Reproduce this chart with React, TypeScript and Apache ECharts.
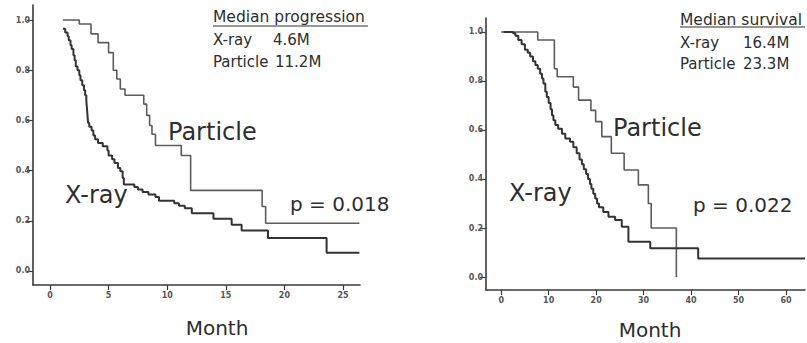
import { useEffect, useRef } from "react";
import * as echarts from "echarts";

// Panel A: progression
const progXrayMonths = [1.1, 1.3, 1.5, 1.6, 1.75, 1.85, 2.0, 2.1, 2.2, 2.35, 2.5, 2.6, 2.75, 2.9, 3.0, 3.1, 3.15, 3.2, 3.25, 3.35, 3.55, 3.7, 3.85, 4.1, 4.5, 4.9, 5.0, 5.3, 5.5, 5.8, 6.0, 6.2, 6.3, 7.2, 7.5, 7.9, 8.4, 9.0, 9.3, 10.6, 11.0, 11.5, 12.1, 13.95, 15.5, 16.35, 18.6, 23.6, 26.4];
const progXraySurv = [0.965, 0.95, 0.935, 0.92, 0.9, 0.885, 0.86, 0.84, 0.815, 0.8, 0.78, 0.76, 0.74, 0.72, 0.7, 0.68, 0.65, 0.62, 0.59, 0.575, 0.56, 0.54, 0.525, 0.51, 0.497, 0.48, 0.46, 0.445, 0.43, 0.41, 0.397, 0.37, 0.345, 0.335, 0.325, 0.315, 0.305, 0.295, 0.28, 0.27, 0.26, 0.25, 0.23, 0.208, 0.184, 0.161, 0.131, 0.073, 0.073];
const progParticleMonths = [1.1, 2.5, 3.5, 4.1, 5.0, 5.4, 5.7, 6.0, 6.4, 8.0, 8.25, 8.5, 8.7, 9.0, 11.2, 12.0, 18.1, 18.4, 26.4];
const progParticleSurv = [1.0, 0.984, 0.945, 0.91, 0.87, 0.8, 0.765, 0.725, 0.7, 0.665, 0.62, 0.58, 0.545, 0.5, 0.46, 0.321, 0.257, 0.19, 0.19];

// Panel B: survival
const survXrayMonths = [0.5, 2.5, 3.0, 3.6, 4.3, 5.0, 5.6, 6.1, 6.7, 7.2, 7.7, 8.2, 8.6, 8.9, 9.3, 9.6, 10.0, 10.4, 10.7, 11.0, 11.4, 12.0, 12.8, 13.5, 14.5, 15.2, 15.9, 16.5, 17.0, 17.4, 17.9, 18.3, 18.7, 19.0, 19.4, 19.8, 20.2, 20.6, 21.5, 22.6, 24.0, 25.4, 26.8, 31.4, 41.5, 64.0];
const survXraySurv = [1.0, 0.995, 0.985, 0.967, 0.95, 0.927, 0.915, 0.9, 0.88, 0.865, 0.85, 0.83, 0.81, 0.79, 0.756, 0.735, 0.71, 0.685, 0.66, 0.64, 0.62, 0.605, 0.585, 0.565, 0.552, 0.53, 0.505, 0.48, 0.46, 0.44, 0.42, 0.4, 0.38, 0.36, 0.34, 0.32, 0.3, 0.285, 0.265, 0.246, 0.233, 0.205, 0.144, 0.117, 0.076, 0.076];
const survParticleMonths = [0.0, 7.7, 11.2, 11.8, 15.2, 16.3, 18.9, 19.9, 21.2, 23.2, 25.9, 28.9, 31.0, 31.6, 36.9];
const survParticleSurv = [1.0, 0.967, 0.85, 0.817, 0.775, 0.722, 0.68, 0.634, 0.573, 0.505, 0.437, 0.376, 0.3, 0.2, 0.0];

const progMonthTicks = [0, 5, 10, 15, 20, 25];
const survMonthTicks = [0, 10, 20, 30, 40, 50, 60];
const probTicks = [0, 0.2, 0.4, 0.6, 0.8, 1.0];

const zip = (xs: number[], ys: number[]) => xs.map((x, i) => [x, ys[i]]);

const FONT = "DejaVu Sans";
const AXIS = "#3a3a3a";
const INK = "#2e2e2e";

function xAxisCfg(gridIndex: number, min: number, max: number, ticks: number[]) {
  return {
    type: "value",
    gridIndex,
    min,
    max,
    axisLine: { show: true, onZero: false, lineStyle: { color: AXIS, width: 1.6 } },
    axisTick: { show: true, customValues: ticks, length: 5, lineStyle: { color: AXIS, width: 1.2 } },
    axisLabel: { customValues: ticks, fontSize: 8, fontWeight: "bold", color: "#555", margin: 6, fontFamily: FONT },
    splitLine: { show: false },
  };
}

function yAxisCfg(gridIndex: number, min: number, max: number) {
  return {
    type: "value",
    gridIndex,
    min,
    max,
    axisLine: { show: true, onZero: false, lineStyle: { color: AXIS, width: 1.6 } },
    axisTick: { show: true, customValues: probTicks, length: 6, lineStyle: { color: AXIS, width: 1.2 } },
    axisLabel: {
      customValues: probTicks,
      fontSize: 8,
      fontWeight: "bold",
      color: "#555",
      margin: 3,
      fontFamily: FONT,
      formatter: (v: number) => v.toFixed(1),
    },
    splitLine: { show: false },
  };
}

function lineSeries(xi: number, data: number[][], color: string, width: number) {
  return {
    type: "line",
    xAxisIndex: xi,
    yAxisIndex: xi,
    data,
    step: "end",
    symbol: "none",
    silent: true,
    lineStyle: { color, width },
  };
}

function txt(x: number, y: number, text: string, size: number, align = "left", weight = "normal") {
  return {
    type: "text",
    x,
    y,
    style: {
      text,
      fontSize: size,
      fontFamily: FONT,
      fill: INK,
      textAlign: align,
      textVerticalAlign: "middle",
      fontWeight: weight,
    },
  };
}

function uline(x1: number, x2: number, y: number) {
  return { type: "line", shape: { x1, y1: y, x2, y2: y }, style: { stroke: INK, lineWidth: 1 } };
}

export default function App() {
  const ref = useRef<HTMLDivElement>(null);
  useEffect(() => {
    if (!ref.current) return;
    const chart = echarts.init(ref.current, undefined, { renderer: "svg" });
    chart.setOption({
      animation: false,
      backgroundColor: "#ffffff",
      grid: [
        { left: 33, top: 5, width: 327, height: 280 },
        { left: 486, top: 18, width: 319, height: 272 },
      ],
      xAxis: [xAxisCfg(0, -1.45, 26.45, progMonthTicks), xAxisCfg(1, -3.2, 64, survMonthTicks)],
      yAxis: [yAxisCfg(0, -0.056, 1.06), yAxisCfg(1, -0.053, 1.057)],
      series: [
        lineSeries(0, zip(progParticleMonths, progParticleSurv), "#5c5c5c", 1.6),
        lineSeries(0, zip(progXrayMonths, progXraySurv), "#333333", 2),
        lineSeries(1, zip(survParticleMonths, survParticleSurv), "#5c5c5c", 1.6),
        lineSeries(1, zip(survXrayMonths, survXraySurv), "#333333", 2),
      ],
      graphic: [
        txt(213, 17, "Median progression", 15.5),
        uline(213, 368, 26),
        txt(213, 40, "X-ray", 15),
        txt(273, 40, "4.6M", 15),
        txt(213, 62, "Particle", 15),
        txt(275, 62, "11.2M", 15),
        txt(168, 132, "Particle", 24),
        txt(65, 195, "X-ray", 24),
        txt(290, 204, "p = 0.018", 20),
        txt(217, 328, "Month", 20, "center"),

        txt(680, 20, "Median survival", 15.5),
        uline(680, 805, 27),
        txt(680, 43, "X-ray", 15),
        txt(743, 43, "16.4M", 15),
        txt(680, 64, "Particle", 15),
        txt(743, 64, "23.3M", 15),
        txt(613, 128, "Particle", 24),
        txt(509, 193, "X-ray", 24),
        txt(693, 205, "p = 0.022", 20),
        txt(650, 330, "Month", 20, "center"),
      ],
    });
    return () => chart.dispose();
  }, []);
  return (
    <div
      ref={ref}
      style={{ position: "fixed", left: 0, top: 0, width: 807, height: 343, background: "#fff" }}
    />
  );
}
